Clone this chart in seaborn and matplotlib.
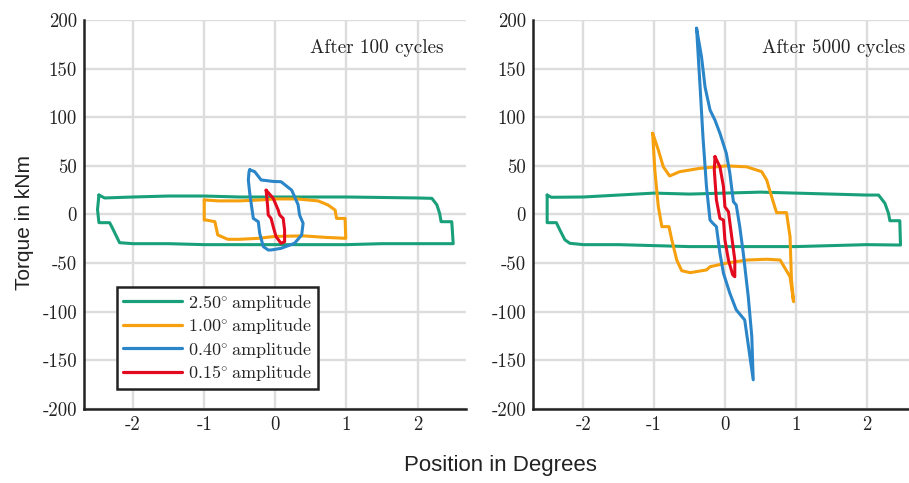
import matplotlib
matplotlib.use("Agg")
import matplotlib.pyplot as plt
import seaborn as sns
import pandas as pd

# ---------------- data ----------------
series_labels = [r"2.50$^{\circ}\!$ amplitude", r"1.00$^{\circ}\!$ amplitude",
                 r"0.40$^{\circ}\!$ amplitude", r"0.15$^{\circ}\!$ amplitude"]
series_colors = ["#19a07a", "#f5a00c", "#2a86c8", "#e30a1f"]
panel_titles = ["After 100 cycles", "After 5000 cycles"]

x_ticks = [-2, -1, 0, 1, 2]
x_tick_labels = ["-2", "-1", "0", "1", "2"]
y_ticks = [-200, -150, -100, -50, 0, 50, 100, 150, 200]
y_tick_labels = ["-200", "-150", "-100", "-50", "0", "50", "100", "150", "200"]

# After 100 cycles
l_green_x = [-2.48, -2.40, -2.0, -1.5, -1.0, -0.5, 0.0, 0.5, 1.0, 1.5, 2.0, 2.20, 2.27, 2.31, 2.33, 2.48, 2.50,
             2.0, 1.5, 1.0, 0.5, 0.0, -0.5, -1.0, -1.5, -2.0, -2.19, -2.21, -2.30, -2.33, -2.48, -2.50, -2.48]
l_green_y = [20, 17, 18, 19, 19, 18, 18, 18, 18, 17.5, 17, 16.6, 10, 1, -7.4, -7.4, -30,
             -30, -30, -31, -31, -31, -31, -31, -30, -30, -29, -26, -12.5, -8.4, -8.4, 5, 20]
l_orange_x = [-1.00, -0.8, -0.5, -0.2, 0.0, 0.3, 0.6, 0.74, 0.84, 0.86, 0.98, 0.99, 0.7, 0.4, 0.0, -0.24,
              -0.5, -0.67, -0.81, -0.85, -0.97, -1.00, -1.00]
l_orange_y = [15, 14, 14, 15, 16, 16, 14, 9.8, 4.6, -4, -4, -24.5, -23.5, -22, -22.5, -24.5,
              -25.5, -25.5, -21, -7.4, -5.7, -5.7, 15]
l_blue_x = [-0.36, -0.29, -0.20, -0.03, 0.08, 0.23, 0.32, 0.34, 0.39, 0.37, 0.27, 0.08, -0.06, -0.10,
            -0.17, -0.22, -0.24, -0.31, -0.36, -0.38, -0.37, -0.36]
l_blue_y = [46, 44, 35.5, 34, 33.7, 25, 10, -0.5, -9, -21, -29.6, -34.8, -36.5, -36.5,
            -33, -19.4, -7.4, -4, 21.8, 35.5, 44, 46]
l_red_x = [-0.13, -0.03, 0.04, 0.06, 0.11, 0.13, 0.13, 0.08, 0.01, -0.03, -0.06, -0.10, -0.11, -0.13]
l_red_y = [25, 16.6, 4.6, -0.5, -4, -16, -28, -29.6, -22.8, -12.5, -4, -0.5, 9.8, 25]

# After 5000 cycles
r_green_x = [-2.51, -2.45, -2.0, -1.5, -1.0, -0.5, 0.0, 0.5, 1.0, 1.5, 2.0, 2.17, 2.26, 2.31, 2.33, 2.47, 2.48,
             2.0, 1.5, 1.0, 0.5, 0.0, -0.5, -1.0, -1.5, -2.0, -2.19, -2.26, -2.33, -2.38, -2.51, -2.51]
r_green_y = [20, 17.7, 18, 20, 22, 21, 22, 23, 22, 21, 20, 20, 11.5, 1.2, -6.4, -6.4, -31.4,
             -31, -32, -33, -33, -33, -33, -32, -31, -31, -29.6, -26, -16, -8.4, -8.4, 20]
r_orange_x = [-1.02, -0.94, -0.87, -0.78, -0.64, -0.35, 0.02, 0.31, 0.52, 0.59, 0.66, 0.73, 0.87, 0.92,
              0.94, 0.97, 0.92, 0.78, 0.59, 0.31, 0.02, -0.21, -0.26, -0.49, -0.61, -0.68, -0.75, -0.79,
              -0.89, -0.94, -0.99, -1.02]
r_orange_y = [83.5, 66.3, 49, 39.6, 44, 47.5, 50, 49, 44, 35.5, 18.3, 1.9, 1.9, -22.8,
              -67, -89.7, -64, -46.8, -46, -46.8, -50, -53.7, -57, -59.8, -57.8, -46.8, -26, -12.5,
              -12.5, 8, 45.8, 83.5]
r_blue_x = [-0.40, -0.33, -0.28, -0.21, -0.14, -0.07, 0.02, 0.07, 0.12, 0.16, 0.21, 0.26, 0.33, 0.38, 0.40,
            0.28, 0.16, 0.07, -0.02, -0.07, -0.12, -0.17, -0.21, -0.26, -0.31, -0.35, -0.40]
r_blue_y = [191.5, 162, 131, 107.5, 97, 83.5, 63, 42.4, 13.2, 9.8, -12.5, -40, -84.5, -125.6, -170,
            -108.5, -98, -81, -60.5, -40, -12.5, -9, -5.7, 28.6, 80, 131, 191.5]
r_red_x = [-0.14, -0.07, -0.02, 0.0, 0.05, 0.09, 0.14, 0.14, 0.11, 0.05, 0.0, -0.02, -0.07, -0.12, -0.15, -0.14]
r_red_y = [59.4, 49, 28.6, 8, 2.9, -19.3, -46.8, -64, -62, -46.8, -26, -5.7, -4, 15, 45.8, 59.4]


def build(xs, ys):
    frames = []
    for lab, x, y in zip(series_labels, xs, ys):
        frames.append(pd.DataFrame({"pos": x, "torque": y, "series": lab,
                                    "order": range(len(x))}))
    return pd.concat(frames, ignore_index=True)


df_left = build([l_green_x, l_orange_x, l_blue_x, l_red_x], [l_green_y, l_orange_y, l_blue_y, l_red_y])
df_right = build([r_green_x, r_orange_x, r_blue_x, r_red_x], [r_green_y, r_orange_y, r_blue_y, r_red_y])

# ---------------- style ----------------
sns.set_style("whitegrid", {"grid.color": "#dddddd", "axes.edgecolor": "black"})
SERIF = ["cmr10", "DejaVu Serif"]
SANS = ["Liberation Sans", "DejaVu Sans"]
plt.rcParams["font.family"] = SERIF
plt.rcParams["axes.unicode_minus"] = False
plt.rcParams["mathtext.fontset"] = "cm"

fig = plt.figure(figsize=(9.09, 4.83), dpi=100)
ax1 = fig.add_axes([84 / 909, 1 - 409 / 483, 382 / 909, 389 / 483])
ax2 = fig.add_axes([533 / 909, 1 - 409 / 483, 376 / 909, 389 / 483])

palette = dict(zip(series_labels, series_colors))
xlims = [(-2.69, 2.68), (-2.71, 2.60)]

for i, (ax, df) in enumerate(zip([ax1, ax2], [df_left, df_right])):
    sns.lineplot(data=df, x="pos", y="torque", hue="series", hue_order=series_labels,
                 palette=palette, sort=False, estimator=None, linewidth=2.2,
                 ax=ax, legend=(i == 0))
    ax.set_xlim(*xlims[i])
    ax.set_ylim(-200, 200)
    ax.set_xticks(x_ticks)
    ax.set_xticklabels(x_tick_labels)
    ax.set_yticks(y_ticks)
    ax.set_yticklabels(y_tick_labels)
    ax.set_xlabel("")
    ax.set_ylabel("")
    ax.grid(True, color="#dddddd", linewidth=1.7)
    ax.set_axisbelow(True)
    for s in ["top", "right"]:
        ax.spines[s].set_visible(False)
    for s in ["left", "bottom"]:
        ax.spines[s].set_linewidth(1.8)
        ax.spines[s].set_color("#222222")
    ax.tick_params(direction="in", length=4, width=1.5, color="#222222",
                   labelsize=13.5, pad=5, labelcolor="#222222")
    for lbl in ax.get_xticklabels() + ax.get_yticklabels():
        lbl.set_family(SERIF)
    ax.set_facecolor("white")

ax1.text(0.94, 0.928, panel_titles[0], transform=ax1.transAxes, ha="right", va="center",
         fontsize=13.8, family=SERIF, color="#222222")
ax2.text(0.989, 0.928, panel_titles[1], transform=ax2.transAxes, ha="right", va="center",
         fontsize=13.8, family=SERIF, color="#222222")

handles, labels = ax1.get_legend_handles_labels()
leg = ax1.legend(handles, labels, loc="lower left", bbox_to_anchor=(0.086, 0.051),
                 borderaxespad=0, frameon=True, fancybox=False, framealpha=1,
                 edgecolor="#222222", handlelength=3.3, handletextpad=0.3,
                 labelspacing=0.2, borderpad=0.32,
                 prop={"family": SERIF, "size": 13})
leg.get_frame().set_linewidth(1.8)
for h in leg.get_lines():
    h.set_linewidth(2.3)

fig.text(0.55, 0.037, "Position in Degrees", ha="center", va="center",
         fontsize=16, family=SANS, color="#222222")
fig.text(0.027, 0.54, "Torque in kNm", ha="center", va="center", rotation=90,
         fontsize=15, family=SANS, color="#222222")

fig.savefig("out.png", dpi=100, facecolor="white")
